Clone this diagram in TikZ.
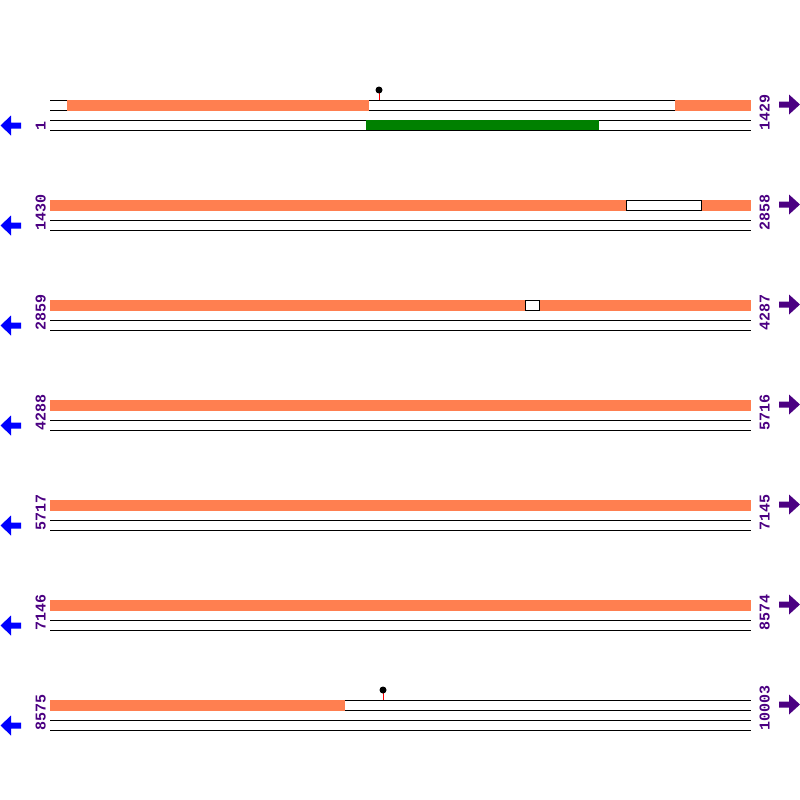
\documentclass[tikz,border=0pt]{standalone}
\usepackage{fontspec}
\setmonofont{Liberation Mono}
\definecolor{featorange}{HTML}{FF7F50}
\definecolor{featgreen}{HTML}{008000}
\definecolor{labpurple}{HTML}{4B0082}
\definecolor{arrblue}{HTML}{0000FF}
\begin{document}
\begin{tikzpicture}[x=1pt,y=-1pt,
  trackline/.style={draw=black,line width=1pt},
  orangebox/.style={fill=featorange,draw=none},
  gapbox/.style={fill=white,draw=black,line width=1pt},
  greenbox/.style={fill=featgreen,draw=none},
  poslabel/.style={rotate=90,anchor=base west,inner sep=0pt,text=labpurple,font=\ttfamily\bfseries\fontsize{15}{15}\selectfont},
  leftarrow/.style={fill=arrblue,draw=none},
  rightarrow/.style={fill=labpurple,draw=none}]
\useasboundingbox (0,0) rectangle (800,800);
% track lines
\foreach \r in {1,...,7}{
  \pgfmathsetmacro{\yy}{100*\r}
  \foreach \d in {0,10,20,30}{
    \draw[trackline] (50,\yy+\d) -- (751,\yy+\d);
  }
}
% orange features
\foreach \r/\a/\b in {1/67/369,1/675/751,2/50/626,2/701/751,3/50/525,3/539/751,4/50/751,5/50/751,6/50/751,7/50/345}{
  \pgfmathsetmacro{\yy}{100*\r}
  \fill[orangebox] (\a,\yy) rectangle (\b,\yy+10.5);
}
% gaps with outline
\draw[gapbox] (626,200) rectangle (701,210);
\draw[gapbox] (525,300) rectangle (539,310);
% green feature
\fill[greenbox] (366,120) rectangle (599,130);
% lollipops
\foreach \x/\yy in {379/100,383/700}{
  \draw[red,line width=1pt] (\x,\yy) -- (\x,\yy-8);
  \fill[black] (\x,\yy-10) circle (3.5);
}
% labels and arrows
\foreach \r/\l/\rr in {1/1/1429,2/1430/2858,3/2859/4287,4/4288/5716,5/5717/7145,6/7146/8574,7/8575/10003}{
  \pgfmathsetmacro{\yy}{100*\r}
  \node[poslabel] (L\r) at (45.5,\yy+30.5) {\l};
  \node[poslabel] (R\r) at (769.5,\yy+30.5) {\rr};
  \fill[leftarrow] (0.5,\yy+25.5) -- (11,\yy+15.5) -- (11,\yy+22.5) -- (21,\yy+22.5) -- (21,\yy+28.5) -- (11,\yy+28.5) -- (11,\yy+35.5) -- cycle;
  \fill[rightarrow] (800,\yy+4.5) -- (789,\yy-5.5) -- (789,\yy+1.5) -- (779,\yy+1.5) -- (779,\yy+7.5) -- (789,\yy+7.5) -- (789,\yy+14.5) -- cycle;
}
\end{tikzpicture}
\end{document}
